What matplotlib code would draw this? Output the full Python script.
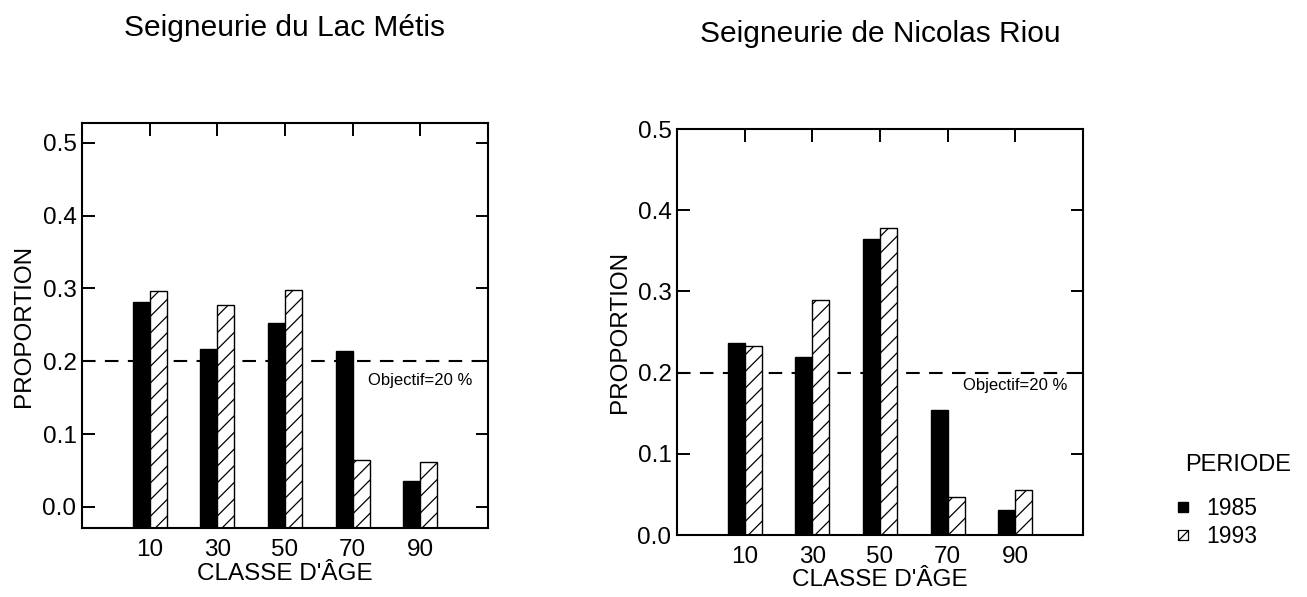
import numpy as np
import matplotlib
matplotlib.use("Agg")
import matplotlib.pyplot as plt
from matplotlib.lines import Line2D
from matplotlib.path import Path

# data
classes = [10, 30, 50, 70, 90]
lac_metis_1985 = [0.281, 0.217, 0.252, 0.214, 0.036]
lac_metis_1993 = [0.297, 0.277, 0.298, 0.065, 0.061]
riou_1985 = [0.236, 0.219, 0.364, 0.154, 0.031]
riou_1993 = [0.233, 0.289, 0.378, 0.047, 0.055]
periods = ["1985", "1993"]
objective = 0.2
titles = ["Seigneurie du Lac Métis", "Seigneurie de Nicolas Riou"]
yticks = [0.0, 0.1, 0.2, 0.3, 0.4, 0.5]

plt.rcParams["font.family"] = ["Liberation Sans", "DejaVu Sans"]
plt.rcParams["hatch.linewidth"] = 0.9

fig = plt.figure(figsize=(13.07, 5.97), dpi=100)
W, H = 1307, 597


def px_axes(x0, y0, x1, y1):
    # axes rectangle given in pixel coordinates (top-left origin)
    return fig.add_axes([x0 / W, 1 - y1 / H, (x1 - x0) / W, (y1 - y0) / H])


def draw_panel(ax, v85, v93, ylim, title, txt_y):
    x = np.array(classes, dtype=float)
    bw = 5.0
    base = ylim[0]
    ax.bar(x - bw / 2, np.array(v85) - base, bw, bottom=base,
           color="black", edgecolor="black", linewidth=1.0)
    ax.bar(x + bw / 2, np.array(v93) - base, bw, bottom=base,
           color="white", edgecolor="black", linewidth=1.0, hatch="//")
    ax.axhline(objective, color="black", lw=1.5, dashes=(6.5, 4.5), zorder=0.5)
    ax.text(105.5, txt_y, "Objectif=20 %", fontsize=12, ha="right", va="baseline")

    ax.set_xlim(-10, 110)
    ax.set_ylim(*ylim)
    ax.set_xticks(classes)
    ax.set_yticks(yticks)
    ax.set_yticklabels([f"{t:.1f}" for t in yticks])
    ax.tick_params(direction="in", length=9, width=1.4, labelsize=17.5,
                   top=True, right=True, pad=4)
    ax.tick_params(axis="x", pad=8)
    for s in ax.spines.values():
        s.set_linewidth(1.5)
    ax.set_xlabel("CLASSE D'ÂGE", fontsize=17.5, labelpad=1)
    ax.set_ylabel("PROPORTION", fontsize=17.5, labelpad=5)
    ax.set_title(title, fontsize=21.5, pad=63)


ax1 = px_axes(82, 123, 488, 528)
draw_panel(ax1, lac_metis_1985, lac_metis_1993, (-0.029, 0.527), titles[0], 0.168)

ax2 = px_axes(677, 129, 1083, 535)
draw_panel(ax2, riou_1985, riou_1993, (0.0, 0.5), titles[1], 0.179)

# legend
hatch_sq = Path([(-1, -1), (1, -1), (1, 1), (-1, 1), (-1, -1), (-1, -1), (1, 1)],
                [Path.MOVETO, Path.LINETO, Path.LINETO, Path.LINETO, Path.CLOSEPOLY,
                 Path.MOVETO, Path.LINETO])
handles = [
    Line2D([], [], ls="", marker="s", markersize=7.2, color="black"),
    Line2D([], [], ls="", marker=hatch_sq, markersize=7.2,
           markerfacecolor="white", markeredgecolor="black", markeredgewidth=0.9),
]
fig.legend(handles, periods, loc="upper left", bbox_to_anchor=(1174 / W, 1 - 497 / H),
           frameon=False, fontsize=16.5, handlelength=0.8, handletextpad=0.6,
           labelspacing=0.2, borderpad=0, borderaxespad=0)
fig.text(1185 / W, 1 - 465 / H, "PERIODE", fontsize=17, ha="left", va="center")

fig.savefig("out.png", dpi=100)
